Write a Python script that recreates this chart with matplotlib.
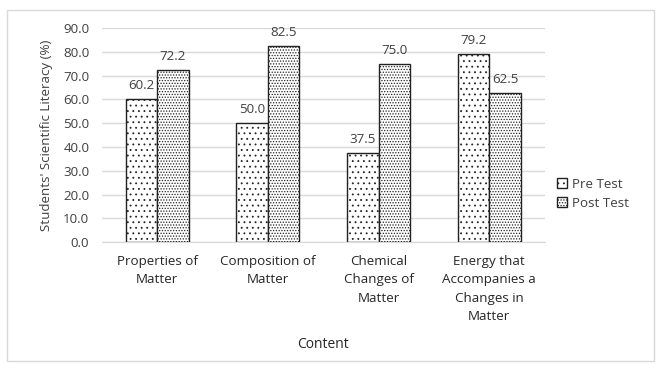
import matplotlib
matplotlib.use("Agg")
import matplotlib.pyplot as plt
import numpy as np
from matplotlib.patches import Rectangle

plt.rcParams['font.family'] = ['Open Sans', 'DejaVu Sans']
plt.rcParams['hatch.linewidth'] = 0.6
plt.rcParams['hatch.color'] = '#333333'

categories = ["Properties of\nMatter", "Composition of\nMatter",
              "Chemical\nChanges of\nMatter",
              "Energy that\nAccompanies a\nChanges in\nMatter"]
pre_test = [60.2, 50.0, 37.5, 79.2]
post_test = [72.2, 82.5, 75.0, 62.5]
series_names = ["Pre Test", "Post Test"]
y_ticks = [0, 10, 20, 30, 40, 50, 60, 70, 80, 90]

FS = 9.6

fig = plt.figure(figsize=(6.61, 3.68), dpi=100)
ax = fig.add_axes([0.154, 0.342, 0.67, 0.582])

# light outer frame around the whole chart
fig.patches.append(Rectangle((0.011, 0.019), 0.978, 0.954, transform=fig.transFigure,
                             fill=False, edgecolor='#d9d9d9', linewidth=1.0))

x = np.arange(len(categories))
w = 0.285
b1 = ax.bar(x - w / 2, pre_test, w, color='white', edgecolor='#222222',
            linewidth=1.0, hatch='...', label=series_names[0], zorder=3)
b2 = ax.bar(x + w / 2, post_test, w, color='white', edgecolor='#222222',
            linewidth=1.0, hatch='......', label=series_names[1], zorder=3)

for bars, vals in ((b1, pre_test), (b2, post_test)):
    for r, v in zip(bars, vals):
        ax.annotate(f"{v:.1f}", (r.get_x() + r.get_width() / 2, v),
                    xytext=(0, 5), textcoords='offset points',
                    ha='center', va='bottom', fontsize=FS, color='#404040')

ax.set_xlim(-0.5, len(categories) - 0.5)
ax.set_ylim(0, 90)
ax.set_yticks(y_ticks)
ax.set_yticklabels([f"{t:.1f}" for t in y_ticks], fontsize=FS, color='#404040')
ax.set_xticks(x)
ax.set_xticklabels(categories, fontsize=FS, color='#262626', linespacing=1.55)
ax.tick_params(length=0)
ax.tick_params(axis='x', pad=9)
ax.tick_params(axis='y', pad=9)
ax.grid(axis='y', color='#d9d9d9', linewidth=1.0, zorder=0)
for s in ('left', 'right', 'top'):
    ax.spines[s].set_visible(False)
ax.spines['bottom'].set_color('#d9d9d9')

ax.set_ylabel("Students' Scientific Literacy (%)", fontsize=FS, color='#404040', labelpad=7)
fig.text(0.489, 0.064, "Content", ha='center', va='center', fontsize=FS + 0.4, color='#262626')

fig.legend(handles=[b1, b2], labels=series_names, loc='upper left',
           bbox_to_anchor=(0.824, 0.55), frameon=False, fontsize=FS,
           handlelength=0.75, handleheight=0.75, handletextpad=0.4,
           labelspacing=0.45, labelcolor='#404040')

fig.savefig("out.png", dpi=100)
